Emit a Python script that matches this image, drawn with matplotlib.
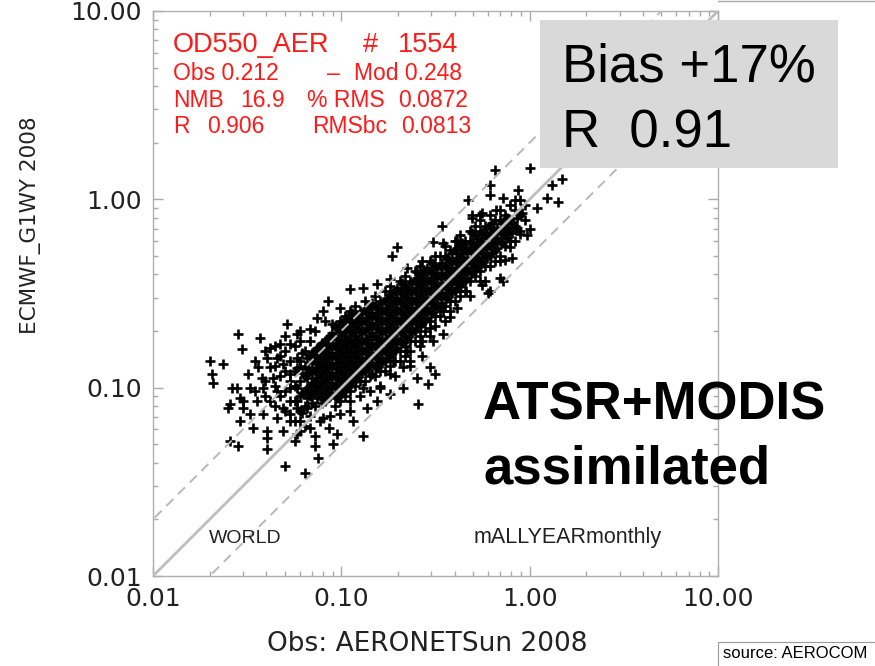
import numpy as np
import matplotlib
matplotlib.use('Agg')
import matplotlib.pyplot as plt
from matplotlib.patches import Rectangle
from matplotlib.lines import Line2D
from matplotlib.ticker import NullFormatter

# ---- data (AOD at 550 nm, obs vs model) ----
# dense band: one obs value per column, model values of the points in that column
core_obs = [0.0567, 0.0603, 0.0641, 0.0681, 0.0724, 0.0770, 0.0818, 0.0870, 0.0925, 0.0983,
            0.1045, 0.1111, 0.1181, 0.1255, 0.1334, 0.1418, 0.1508, 0.1603, 0.1704, 0.1811,
            0.1925, 0.2046, 0.2175, 0.2312, 0.2458, 0.2613, 0.2778, 0.2953, 0.3139, 0.3336,
            0.3547, 0.3770, 0.4008, 0.4260, 0.4529, 0.4814, 0.5117, 0.5439, 0.5782, 0.6147,
            0.6534, 0.6945, 0.7383, 0.7848, 0.8342, 0.8868, 0.9426]
core_mod = [
    [0.167, 0.123, 0.102, 0.0852, 0.0667, 0.0522],
    [0.200, 0.139, 0.109, 0.0906, 0.0754, 0.0590],
    [0.157, 0.131, 0.116, 0.0963, 0.0801, 0.0627],
    [0.177, 0.148, 0.123, 0.102, 0.0906, 0.0709],
    [0.200, 0.157, 0.139, 0.123, 0.109, 0.0963, 0.0801, 0.0555],
    [0.167, 0.148, 0.131, 0.116, 0.102, 0.0906, 0.0667],
    [0.227, 0.177, 0.157, 0.139, 0.123, 0.109, 0.0963, 0.0852],
    [0.188, 0.167, 0.148, 0.131, 0.116, 0.102, 0.0906, 0.0709],
    [0.213, 0.188, 0.167, 0.148, 0.131, 0.116, 0.102, 0.0906, 0.0801],
    [0.227, 0.200, 0.177, 0.157, 0.139, 0.123, 0.109, 0.0963, 0.0852],
    [0.241, 0.213, 0.188, 0.167, 0.148, 0.131, 0.116, 0.102, 0.0906],
    [0.256, 0.227, 0.200, 0.177, 0.157, 0.139, 0.123, 0.109, 0.0963, 0.0754],
    [0.272, 0.241, 0.213, 0.188, 0.167, 0.148, 0.131, 0.116, 0.102],
    [0.256, 0.227, 0.200, 0.177, 0.157, 0.139, 0.123, 0.109, 0.0906],
    [0.290, 0.256, 0.227, 0.200, 0.177, 0.157, 0.139, 0.123, 0.109],
    [0.272, 0.241, 0.213, 0.188, 0.167, 0.148, 0.131, 0.116, 0.0963],
    [0.308, 0.272, 0.241, 0.213, 0.188, 0.167, 0.148, 0.131, 0.116],
    [0.290, 0.256, 0.227, 0.200, 0.177, 0.157, 0.139, 0.123, 0.102],
    [0.327, 0.290, 0.256, 0.227, 0.200, 0.177, 0.157, 0.139, 0.123],
    [0.348, 0.308, 0.272, 0.241, 0.213, 0.188, 0.167, 0.148, 0.131],
    [0.327, 0.290, 0.256, 0.227, 0.200, 0.177, 0.157, 0.139, 0.116],
    [0.370, 0.327, 0.290, 0.256, 0.227, 0.200, 0.177, 0.157, 0.139],
    [0.393, 0.348, 0.308, 0.272, 0.241, 0.213, 0.188, 0.167, 0.148],
    [0.370, 0.327, 0.290, 0.256, 0.227, 0.200, 0.177, 0.157, 0.131],
    [0.418, 0.370, 0.327, 0.290, 0.256, 0.227, 0.200, 0.177],
    [0.445, 0.393, 0.348, 0.308, 0.272, 0.241, 0.213, 0.188, 0.167],
    [0.418, 0.370, 0.327, 0.290, 0.256, 0.227, 0.200],
    [0.473, 0.418, 0.370, 0.327, 0.290, 0.256, 0.227, 0.188],
    [0.503, 0.445, 0.393, 0.348, 0.308, 0.272, 0.241, 0.213],
    [0.503, 0.445, 0.393, 0.348, 0.308, 0.272, 0.241],
    [0.568, 0.503, 0.445, 0.393, 0.348, 0.308, 0.272, 0.227],
    [0.535, 0.473, 0.418, 0.370, 0.327, 0.290, 0.256],
    [0.604, 0.535, 0.473, 0.418, 0.370, 0.327, 0.290],
    [0.643, 0.568, 0.503, 0.445, 0.393, 0.348, 0.308],
    [0.604, 0.535, 0.473, 0.418, 0.370, 0.327],
    [0.683, 0.604, 0.535, 0.473, 0.418, 0.370, 0.308],
    [0.726, 0.643, 0.568, 0.503, 0.445, 0.393],
    [0.772, 0.683, 0.604, 0.535, 0.473, 0.418],
    [0.726, 0.643, 0.568, 0.503, 0.445, 0.370],
    [0.821, 0.726, 0.643, 0.568, 0.503, 0.445],
    [0.772, 0.683, 0.604, 0.535, 0.473],
    [0.873, 0.772, 0.683, 0.604, 0.503],
    [0.821, 0.726, 0.643, 0.568],
    [0.928, 0.772, 0.683, 0.604],
    [0.873, 0.726, 0.604],
    [0.987, 0.821, 0.683],
    [0.928, 0.772],
]
# second set of columns in between, filling the solid black centre of the band
mid_obs = [0.0585, 0.0622, 0.0661, 0.0702, 0.0746, 0.0794, 0.0843, 0.0897, 0.0954, 0.1013,
           0.1077, 0.1145, 0.1218, 0.1294, 0.1375, 0.1462, 0.1555, 0.1653, 0.1757, 0.1867,
           0.1985, 0.2109, 0.2242, 0.2384, 0.2534, 0.2694, 0.2864, 0.3045, 0.3236, 0.3439,
           0.3657, 0.3887, 0.4132, 0.4392, 0.4669, 0.4963, 0.5276, 0.5608, 0.5961, 0.6338,
           0.6737, 0.7160, 0.7612, 0.8091, 0.8601, 0.9143]
mid_mod = [
    [0.127, 0.0993, 0.0777],
    [0.152, 0.119, 0.0934, 0.0731],
    [0.144, 0.127, 0.1125, 0.0993, 0.0879, 0.0777],
    [0.152, 0.135, 0.119, 0.1057, 0.0934, 0.0826],
    [0.162, 0.144, 0.127, 0.1125, 0.0993, 0.0879],
    [0.172, 0.152, 0.135, 0.119, 0.1057, 0.0934, 0.0826],
    [0.182, 0.162, 0.144, 0.127, 0.1125, 0.0993, 0.0879],
    [0.194, 0.172, 0.152, 0.135, 0.119, 0.1057, 0.0934],
    [0.207, 0.182, 0.162, 0.144, 0.127, 0.1125, 0.0993, 0.0879],
    [0.220, 0.194, 0.172, 0.152, 0.135, 0.119, 0.1057, 0.0934],
    [0.234, 0.207, 0.182, 0.162, 0.144, 0.127, 0.1125, 0.0993],
    [0.248, 0.220, 0.194, 0.172, 0.152, 0.135, 0.119, 0.1057],
    [0.234, 0.207, 0.182, 0.162, 0.144, 0.127, 0.1125],
    [0.248, 0.220, 0.194, 0.172, 0.152, 0.135, 0.119],
    [0.264, 0.234, 0.207, 0.182, 0.162, 0.144, 0.127],
    [0.281, 0.248, 0.220, 0.194, 0.172, 0.152, 0.135],
    [0.264, 0.234, 0.207, 0.182, 0.162, 0.144, 0.127],
    [0.281, 0.248, 0.220, 0.194, 0.172, 0.152, 0.135],
    [0.299, 0.264, 0.234, 0.207, 0.182, 0.162, 0.144],
    [0.317, 0.281, 0.248, 0.220, 0.194, 0.172, 0.152],
    [0.338, 0.299, 0.264, 0.234, 0.207, 0.182, 0.162],
    [0.359, 0.317, 0.281, 0.248, 0.220, 0.194, 0.172],
    [0.338, 0.299, 0.264, 0.234, 0.207, 0.182],
    [0.359, 0.317, 0.281, 0.248, 0.220, 0.194],
    [0.381, 0.338, 0.299, 0.264, 0.234, 0.207],
    [0.405, 0.359, 0.317, 0.281, 0.248, 0.220],
    [0.432, 0.381, 0.338, 0.299, 0.264, 0.234],
    [0.459, 0.405, 0.359, 0.317, 0.281, 0.248],
    [0.432, 0.381, 0.338, 0.299, 0.264],
    [0.459, 0.405, 0.359, 0.317, 0.281],
    [0.488, 0.432, 0.381, 0.338, 0.299],
    [0.519, 0.459, 0.405, 0.359, 0.317],
    [0.551, 0.488, 0.432, 0.381, 0.338],
    [0.586, 0.519, 0.459, 0.405, 0.359],
    [0.551, 0.488, 0.432, 0.381],
    [0.662, 0.586, 0.519, 0.459, 0.405],
    [0.624, 0.551, 0.488, 0.432],
    [0.662, 0.586, 0.519, 0.459],
    [0.704, 0.624, 0.551, 0.488],
    [0.749, 0.662, 0.586, 0.519],
    [0.704, 0.624, 0.551],
    [0.749, 0.662, 0.586],
    [0.796, 0.704, 0.624],
    [0.749, 0.662],
    [0.796, 0.704],
    [0.847],
]

# scattered points around the band, (obs, mod)
left_pts = [(0.0283, 0.193), (0.0370, 0.184), (0.0297, 0.160), (0.0418, 0.162), (0.0472, 0.171),
            (0.0533, 0.171), (0.0603, 0.177), (0.0514, 0.219), (0.0581, 0.193), (0.0403, 0.144),
            (0.0455, 0.144), (0.0360, 0.128), (0.0418, 0.128), (0.0489, 0.134), (0.0581, 0.144),
            (0.0319, 0.118), (0.0379, 0.113), (0.0433, 0.113), (0.0533, 0.118), (0.0603, 0.128),
            (0.0279, 0.100), (0.0327, 0.100), (0.0385, 0.100), (0.0455, 0.0963), (0.0533, 0.100),
            (0.0299, 0.0852), (0.0356, 0.0852), (0.0418, 0.0852), (0.0489, 0.0782), (0.0581, 0.0852),
            (0.0256, 0.0821), (0.0327, 0.0727), (0.0385, 0.0727), (0.0455, 0.0692), (0.0533, 0.0727),
            (0.0603, 0.0667), (0.0290, 0.0667), (0.0340, 0.0612), (0.0403, 0.0590), (0.0489, 0.0590),
            (0.0581, 0.0569), (0.0681, 0.0612), (0.0256, 0.0522), (0.0283, 0.0491), (0.0403, 0.0541),
            (0.0403, 0.0474), (0.0502, 0.0384), (0.0641, 0.0352), (0.0724, 0.0491), (0.0751, 0.0424),
            (0.0201, 0.139), (0.0235, 0.134), (0.0205, 0.118), (0.0208, 0.106), (0.0290, 0.0885),
            (0.0299, 0.0782), (0.0250, 0.0782), (0.0262, 0.100),
            (0.0444, 0.167), (0.0444, 0.131), (0.0444, 0.102), (0.0444, 0.0801),
            (0.0472, 0.148), (0.0472, 0.116), (0.0472, 0.0906),
            (0.0502, 0.188), (0.0502, 0.157), (0.0502, 0.123), (0.0502, 0.0963), (0.0502, 0.0754),
            (0.0533, 0.139), (0.0533, 0.109), (0.0533, 0.0852), (0.0533, 0.0667),
            (0.0393, 0.157), (0.0393, 0.109), (0.0393, 0.0906), (0.0348, 0.139), (0.0348, 0.0963)]
lower_pts = [(0.0903, 0.0503), (0.130, 0.0555), (0.0948, 0.0569), (0.0799, 0.0692), (0.0983, 0.0727),
             (0.115, 0.0667), (0.111, 0.0852), (0.137, 0.0782), (0.154, 0.0852), (0.181, 0.0928),
             (0.212, 0.100), (0.252, 0.113), (0.295, 0.128), (0.212, 0.128), (0.181, 0.118),
             (0.160, 0.100), (0.255, 0.0821), (0.314, 0.118), (0.269, 0.148), (0.288, 0.105),
             (0.306, 0.178), (0.345, 0.256), (0.411, 0.266), (0.295, 0.207), (0.345, 0.193),
             (0.269, 0.177), (0.223, 0.157), (0.188, 0.139), (0.231, 0.139), (0.146, 0.118),
             (0.130, 0.100), (0.377, 0.236), (0.0856, 0.0612)]
upper_pts = [(0.0799, 0.256), (0.0849, 0.290), (0.111, 0.335), (0.130, 0.338), (0.0743, 0.235),
             (0.0983, 0.266), (0.154, 0.357), (0.181, 0.379), (0.223, 0.432), (0.197, 0.556),
             (0.185, 0.503), (0.269, 0.473), (0.252, 0.409), (0.341, 0.726), (0.345, 0.586),
             (0.411, 0.604), (0.497, 0.800), (0.560, 0.842), (0.665, 0.873), (0.0890, 0.219),
             (0.0680, 0.204)]
top_pts = [(0.652, 1.43), (1.00, 1.46), (1.48, 1.29), (1.32, 1.19), (1.41, 0.964), (1.23, 1.02),
           (1.10, 0.895), (0.614, 1.19), (0.614, 1.05), (0.469, 0.99), (0.863, 1.12), (0.832, 0.99),
           (0.719, 1.02), (0.306, 0.59), (1.00, 0.70), (0.964, 0.644), (0.81, 0.491), (0.737, 0.474),
           (0.693, 0.38), (0.599, 0.32), (0.556, 0.349), (0.492, 0.822), (0.543, 0.822), (0.411, 0.357),
           (0.460, 0.327), (0.544, 0.370), (0.615, 0.327), (0.695, 0.473), (0.785, 0.556),
           (0.887, 0.658), (0.721, 0.370)]

tick_vals = [0.01, 0.1, 1, 10]
tick_labels = ['0.01', '0.10', '1.00', '10.00']

# ---- assemble points ----
obs, mod = [], []
for xs, ys in ((core_obs, core_mod), (mid_obs, mid_mod)):
    obs += [o for o, col in zip(xs, ys) for _ in col]
    mod += [m for col in ys for m in col]
for pts in (left_pts, lower_pts, upper_pts, top_pts):
    obs += [p[0] for p in pts]
    mod += [p[1] for p in pts]

W, H = 875, 666
fig = plt.figure(figsize=(W / 100, H / 100), dpi=100)
ax = fig.add_axes([153 / W, 1 - 576 / H, 565 / W, 565 / H])

def put(x, y, s, **kw):
    # place text by pixel position of the reference picture
    return fig.text(x / W, 1 - y / H, s, **kw)

ax.plot(obs, mod, ls='none', marker='+', color='black', ms=7.5, mew=1.9, zorder=2)

ref = np.array([0.005, 20.0])
ax.plot(ref, ref, color='#bdbdbd', lw=2.0, zorder=3)
ax.plot(ref, ref * 2, color='#b8b8b8', lw=1.4, ls=(0, (5, 3.5)), zorder=3)
ax.plot(ref, ref / 2, color='#b8b8b8', lw=1.4, ls=(0, (5, 3.5)), zorder=3)

ax.set_xscale('log')
ax.set_yscale('log')
ax.set_xlim(0.01, 10)
ax.set_ylim(0.01, 10)
ax.set_xticks(tick_vals, tick_labels)
ax.set_yticks(tick_vals, tick_labels)
ax.xaxis.set_minor_formatter(NullFormatter())
ax.yaxis.set_minor_formatter(NullFormatter())
ax.tick_params(which='both', direction='in', top=True, right=True, color='#aaaaaa',
               labelsize=18, labelcolor='#222222')
ax.tick_params(which='major', length=7, width=1, pad=8)
ax.tick_params(which='minor', length=3.5, width=1)
for s in ax.spines.values():
    s.set_color('#b0b0b0')
    s.set_linewidth(1.0)

ax.set_xlabel('Obs: AERONETSun 2008', fontsize=19, color='#222222', va='center')
ax.xaxis.set_label_coords(0.485, -0.12)
ax.set_ylabel('ECMWF_G1WY 2008', fontsize=15.5, color='#222222', va='center')
ax.yaxis.set_label_coords(-0.216, 0.621)

# red statistics block
red = dict(color='#ff1a1a', family='Liberation Sans', va='baseline')
put(173, 52, 'OD550_AER', fontsize=19.5, **red)
put(363, 52, '#', fontsize=19.5, **red)
put(398, 52, '1554', fontsize=19.5, **red)
put(173, 80, 'Obs 0.212', fontsize=16.5, **red)
put(327, 80, '\u2013', fontsize=16.5, **red)
put(354, 80, 'Mod 0.248', fontsize=16.5, **red)
put(173, 107, 'NMB', fontsize=16.5, **red)
put(240, 107, '16.9', fontsize=16.5, **red)
put(307, 107, '% RMS', fontsize=16.5, **red)
put(398, 107, '0.0872', fontsize=16.5, **red)
put(173, 133, 'R', fontsize=16.5, **red)
put(207, 133, '0.906', fontsize=16.5, **red)
put(312, 133, 'RMSbc', fontsize=16.5, **red)
put(401, 133, '0.0813', fontsize=16.5, **red)

gray = dict(color='#222222', family='Liberation Sans', va='baseline')
put(209, 543, 'WORLD', fontsize=14, **gray)
put(474, 543, 'mALLYEARmonthly', fontsize=15.5, **gray)

# overlays from the slide
fig.patches.append(Rectangle((540 / W, 1 - 168 / H), 298 / W, 148 / H, transform=fig.transFigure,
                             facecolor='#d9d9d9', edgecolor='none', zorder=5))
big = dict(color='black', family='Liberation Sans', va='baseline', fontsize=38, zorder=6)
put(562, 82, 'Bias +17%', **big)
put(562, 147, 'R  0.91', **big)

bold = dict(color='black', family='Liberation Sans', va='baseline', fontsize=38,
            fontweight='bold', zorder=6)
put(483, 420, 'ATSR+MODIS', **bold)
put(483, 483, 'assimilated', **bold)

fig.patches.append(Rectangle((718 / W, -0.01), 0.2, (666 - 642) / H + 0.01, transform=fig.transFigure,
                             facecolor='white', edgecolor='#999999', lw=0.8, zorder=5))
put(723, 658, 'source: AEROCOM', color='black', family='Liberation Sans', va='baseline',
    fontsize=12, zorder=6)
fig.lines.append(Line2D([718 / W, 1.0], [1 - 1 / H, 1 - 1 / H], transform=fig.transFigure,
                        color='#aaaaaa', lw=1.0))

fig.savefig('out.png', dpi=100)
